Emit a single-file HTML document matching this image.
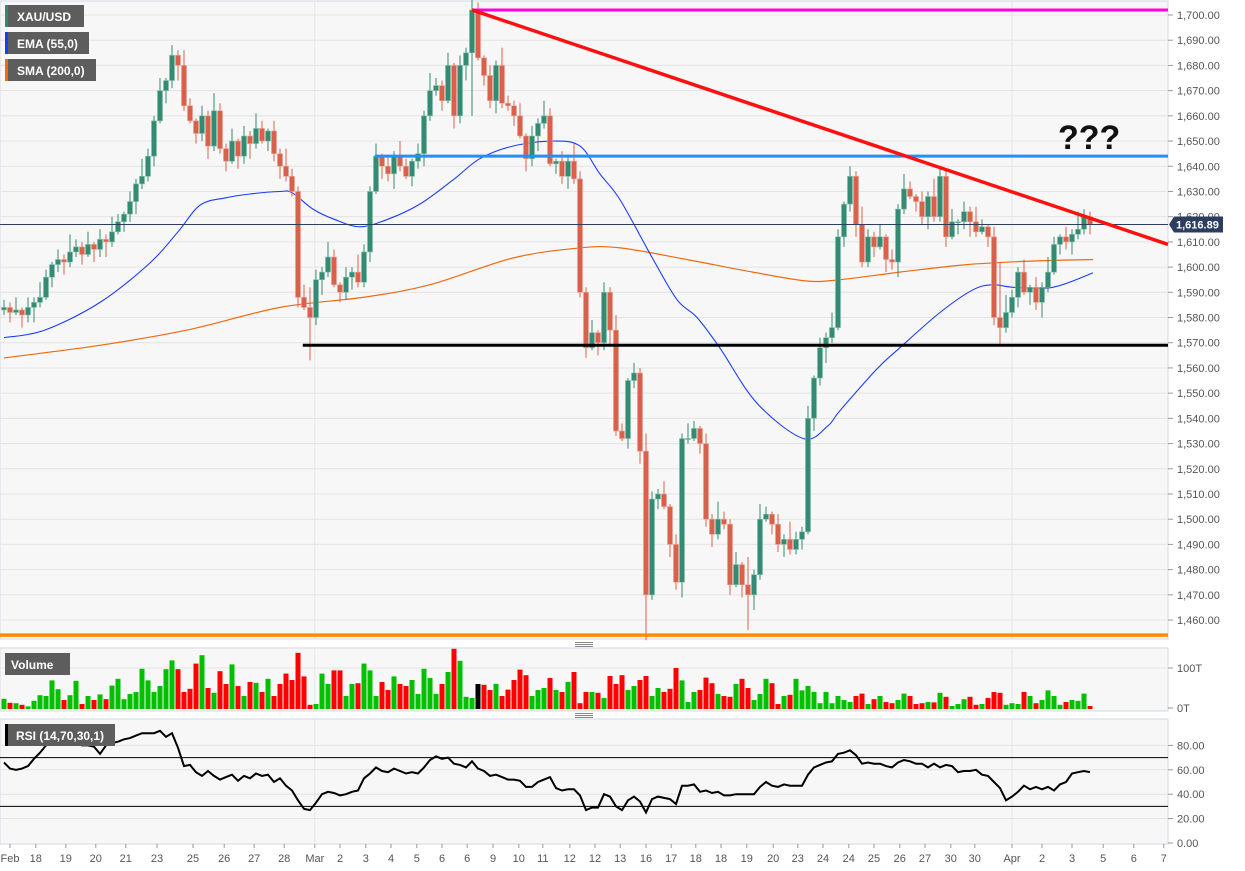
<!DOCTYPE html>
<html><head><meta charset="utf-8"><title>XAU/USD chart</title>
<style>
html,body{margin:0;padding:0;background:#fff;}
svg{display:block;font-family:"Liberation Sans",Arial,sans-serif;}
</style></head>
<body>
<svg id="chart" width="1245" height="871" viewBox="0 0 1245 871" xmlns="http://www.w3.org/2000/svg">
  <rect x="0" y="0" width="1245" height="871" fill="#ffffff"/>
  <rect x="0" y="1" width="1168" height="638" fill="#f7f7f7" stroke="#d3d8e6"/>
  <rect x="0" y="648" width="1168" height="63" fill="#f7f7f7" stroke="#d3d8e6"/>
  <rect x="0" y="719" width="1168" height="125" fill="#f7f7f7" stroke="#d3d8e6"/>
  <g id="grid"></g>
  <g id="overlays"></g>
  <g id="candles"></g>
  <g id="annot"></g>
  <g id="volume"></g>
  <g id="rsi"></g>
  <g id="axes"></g>

  <g>
    <rect x="5" y="5" width="79" height="22" fill="#5d5d5d"/><rect x="5" y="5" width="3" height="22" fill="#2e8b6e"/>
    <text x="17" y="21" font-size="12" font-weight="bold" fill="#fff">XAU/USD</text></g>
  <g>
    <rect x="5" y="32" width="84" height="22" fill="#5d5d5d"/><rect x="5" y="32" width="3" height="22" fill="#1a3cff"/>
    <text x="17" y="48" font-size="12" font-weight="bold" fill="#fff">EMA (55,0)</text></g>
  <g>
    <rect x="5" y="59" width="91" height="22" fill="#5d5d5d"/><rect x="5" y="59" width="3" height="22" fill="#f06a10"/>
    <text x="17" y="75" font-size="12" font-weight="bold" fill="#fff">SMA (200,0)</text></g>
  <g>
    <rect x="5" y="653" width="65" height="22" fill="#5d5d5d"/>
    <text x="11" y="669" font-size="12" fill="#fff" font-weight="bold">Volume</text></g>
  <g>
    <rect x="5" y="724" width="110" height="22" fill="#5d5d5d"/><rect x="5" y="724" width="3" height="22" fill="#000"/>
    <text x="16" y="740" font-size="12" font-weight="bold" fill="#fff">RSI (14,70,30,1)</text></g>
  <text x="1058" y="149" font-size="34" font-weight="bold" fill="#111">???</text>
  <g stroke="#888" stroke-width="1">
    <line x1="575" y1="642.5" x2="593" y2="642.5"/><line x1="575" y1="644.5" x2="593" y2="644.5"/><line x1="575" y1="646.5" x2="593" y2="646.5"/></g>
  <g stroke="#888" stroke-width="1">
    <line x1="575" y1="713.5" x2="593" y2="713.5"/><line x1="575" y1="715.5" x2="593" y2="715.5"/><line x1="575" y1="717.5" x2="593" y2="717.5"/></g>
</svg>
<script>
// ---------- DATA ----------
const closes = [1584,1582,1583,1581,1584,1586,1588,1596,1601,1603,
1602,1606,1608,1605,1609,1607,1611,1610,1614,1618,
1621,1626,1633,1636,1644,1658,1670,1674,1684,1680,
1664,1658,1653,1660,1648,1662,1647,1642,1650,1644,
1652,1649,1655,1650,1654,1645,1640,1636,1630,1588,
1584,1580,1595,1598,1604,1593,1590,1596,1598,1594,
1606,1630,1644,1640,1637,1644,1640,1636,1642,1645,
1660,1670,1672,1666,1680,1660,1680,1685,1702,1683,
1676,1666,1680,1665,1664,1660,1652,1643,1652,1657,
1660,1641,1642,1636,1642,1635,1590,1568,1574,1570,
1590,1575,1535,1532,1555,1558,1527,1470,1508,1510,
1505,1490,1475,1532,1532,1536,1530,1500,1494,1500,
1498,1474,1482,1474,1470,1478,1500,1502,1498,1490,
1492,1488,1492,1495,1540,1556,1568,1572,1576,1612,
1625,1636,1617,1602,1612,1608,1612,1603,1602,1623,
1631,1628,1626,1620,1628,1620,1636,1612,1618,1618,
1622,1618,1614,1616,1612,1580,1576,1582,1588,1598,
1590,1592,1586,1592,1598,1609,1612,1610,1613,1615,
1620,1617];
const firstOpen = 1583;
const wickUp = [3,2,5,1,4,2,6,3,1,4,2,7];
const wickDn = [2,4,1,5,3,6,2,1,4,3,5,2];
const spikeIdx = [51,107,124,166,78,96];
const spikeLow = [1563,1452,1456,1569,1660,1600];
const spikeHigh = [1592,1514,1485,1602,1703,1632];
const volumes = [23,13,12,8,4,18,32,30,69,47,
20,32,68,10,30,20,34,22,56,73,
22,35,40,98,69,40,55,97,119,97,
40,48,111,132,50,38,92,60,109,55,
30,65,63,40,73,30,60,86,70,138,
79,8,10,86,60,94,94,30,60,62,
111,94,30,65,45,79,60,55,70,35,
98,75,35,60,90,148,118,28,25,60,
58,45,60,30,46,70,96,82,30,45,
50,75,45,40,65,90,12,40,40,38,
25,80,60,82,45,55,70,80,30,50,
40,48,100,69,15,40,45,76,62,35,
30,28,60,73,50,20,35,73,62,10,
30,33,73,44,55,40,12,40,12,30,
20,15,30,36,10,22,30,15,12,20,
36,30,10,12,15,14,38,28,5,10,
22,28,8,10,25,40,38,8,12,10,
40,30,12,20,44,30,8,15,20,18,
36,5];
const rsiValues = [66,61,60,61,63,69,74,80,82,82,
82,83,85,80,80,79,73,80,82,83,
85,86,88,90,90,90,92,87,90,78,
63,64,58,55,59,55,52,54,56,51,
55,53,57,55,56,50,53,47,43,35,
28,27,33,40,42,41,39,40,42,43,
53,57,62,59,58,61,59,57,58,57,
62,68,71,69,70,65,64,62,67,61,
59,55,56,54,52,52,51,46,46,50,
52,54,45,43,44,44,39,27,29,29,
40,38,30,27,35,38,34,25,36,38,
37,36,32,47,47,48,42,43,41,42,
39,39,40,40,40,40,46,50,47,46,
48,47,47,47,56,62,64,66,67,73,
74,76,72,65,66,65,65,63,62,66,
68,67,65,65,62,65,62,64,63,58,
59,59,60,56,55,50,45,35,38,42,
47,44,46,44,46,43,48,50,57,58,
59,58];
const emaIdx = [0,6.8,16,24.3,29,32.7,37,41,46,48,51.5,55,59.3,64,69.3,74.8,79.3,84.8,91.5,96,99.3,102.7,108.2,112.2,115.5,119.3,125.5,133.2,137.3,139.3,145.5,149.3,156,161.5,164.8,168.2,174.8,181.5];
const emaVal = [1572,1575,1586,1601.6,1614,1624.6,1627.5,1629,1630,1629.5,1623,1619,1616,1619,1625,1634.5,1643,1648,1650,1648,1637,1626.6,1603,1587,1580,1568,1546,1532,1537,1543,1559.6,1568,1582,1591,1593,1592,1592,1597.7];
const smaIdx = [0,16,30.5,46,59.8,71,84.8,96,102.7,113.8,124.8,133.8,139.3,149.3,160.5,171.5,181.5];
const smaVal = [1564,1569,1575,1584,1588,1593,1603.6,1607.6,1607.6,1603,1598,1594.5,1595,1598,1601,1602.4,1603];
const priceTicks = [1460,1470,1480,1490,1500,1510,1520,1530,1540,1550,1560,1570,1580,1590,1600,1610,1620,1630,1640,1650,1660,1670,1680,1690,1700];
const rsiTicks = [0,20,40,60,80];
const volTicks = [0,100];
const dateLabels = ["Feb","18","19","20","21","23","25","26","27","28","Mar","2","3","4","5","6","6","9","10","11","12","12","13","16","17","18","18","19","20","23","24","24","25","26","27","30","30","Apr","2","3","5","6","7"];
const dateIdx = [1,5.3,10.3,15.3,20.3,25.5,31.5,36.7,41.7,46.7,51.8,56,60.3,64.5,68.8,73,77.2,81.5,85.8,89.8,94.3,98.5,102.7,107,111.2,115.3,119.5,123.8,128.2,132.3,136.5,140.8,145,149.3,153.5,157.8,161.8,168,173,178,183.2,188.3,193.3];
const lastPrice = 1616.89;
const resistance = 1644, support = 1569, lowLine = 1454, highLine = 1702;
const trendStartIdx = 78, trendStartP = 1702, trendEndIdx = 194, trendEndP = 1609;

// ---------- SCALES ----------
const PLOT_R = 1168;
const xOf = i => 4 + 6 * i;
const yP = p => 15 + (1700 - p) * 2.521;
const yV = v => 708 - v * 0.4;
const yR = r => 843 - r * 1.22;
const NS = "http://www.w3.org/2000/svg";
function mk(tag, attrs, parent) {
  const e = document.createElementNS(NS, tag);
  for (const k in attrs) e.setAttribute(k, attrs[k]);
  parent.appendChild(e);
  return e;
}
const G = id => document.getElementById(id);

// grid
const grid = G('grid');
priceTicks.forEach(p => {
  const l = mk('line', {x1:0, x2:PLOT_R, y1:yP(p), y2:yP(p), stroke:'#e4e4e4', 'stroke-width':1}, grid);
  
  
});
[20,40,60,80].forEach(r => {
  const l = mk('line', {x1:0, x2:PLOT_R, y1:yR(r), y2:yR(r), stroke:'#e4e4e4'}, grid);
  
  
});
{
  const l = mk('line', {x1:0, x2:PLOT_R, y1:yV(100), y2:yV(100), stroke:'#e4e4e4'}, grid);
  
  
}
[10, 37].forEach(k => {
  const x = xOf(dateIdx[k]);
  [[1,639],[648,711],[719,844]].forEach(r => {
    const l = mk('line', {x1:x, x2:x, y1:r[0], y2:r[1], stroke:'#e4e4e4'}, grid);
    
    
  });
});

// overlays EMA / SMA (smooth Catmull-Rom)
const ov = G('overlays');
function smoothPath(idx, vals) {
  const P = idx.map((t, k) => [xOf(t), yP(vals[k])]);
  let d = 'M' + P[0][0].toFixed(1) + ' ' + P[0][1].toFixed(1);
  for (let k = 0; k < P.length - 1; k++) {
    const p0 = P[Math.max(0, k-1)], p1 = P[k], p2 = P[k+1], p3 = P[Math.min(P.length-1, k+2)];
    const c1x = p1[0] + (p2[0]-p0[0])/6, c1y = p1[1] + (p2[1]-p0[1])/6;
    const c2x = p2[0] - (p3[0]-p1[0])/6, c2y = p2[1] - (p3[1]-p1[1])/6;
    d += ' C' + c1x.toFixed(1)+' '+c1y.toFixed(1)+' '+c2x.toFixed(1)+' '+c2y.toFixed(1)+' '+p2[0].toFixed(1)+' '+p2[1].toFixed(1);
  }
  return d;
}
{
  const s = mk('path', {d:smoothPath(smaIdx, smaVal), fill:'none', stroke:'#f06a10', 'stroke-width':1.2}, ov);
  
  
  const e = mk('path', {d:smoothPath(emaIdx, emaVal), fill:'none', stroke:'#1a3cff', 'stroke-width':1.1}, ov);
  
  
}

// candles
const cg = G('candles');
const opens = [];
closes.forEach((c, i) => {
  const o = i ? closes[i-1] : firstOpen;
  opens.push(o);
  let hi = Math.max(o, c) + wickUp[i % wickUp.length];
  let lo = Math.min(o, c) - wickDn[i % wickDn.length];
  const s = spikeIdx.indexOf(i);
  if (s >= 0) { lo = Math.min(lo, spikeLow[s]); hi = Math.max(hi, spikeHigh[s]); }
  const up = c >= o;
  const col = up ? '#348a72' : '#d9604b';
  const x = xOf(i);
  const w = mk('line', {x1:x, x2:x, y1:yP(hi), y2:yP(lo), stroke:col, 'stroke-width':1}, cg);
  
  
  const yt = yP(Math.max(o, c)), yb = yP(Math.min(o, c));
  const b = mk('rect', {x:x-2.5, y:yt, width:5, height:Math.max(1, yb-yt), fill:col, stroke:up?'#7fbfa9':'#eaa093', 'stroke-width':0.6}, cg);
  
  
});

// annotations
const an = G('annot');
function hline(p, x1, col, w, name) {
  const l = mk('line', {x1:x1, x2:PLOT_R, y1:yP(p), y2:yP(p), stroke:col, 'stroke-width':w}, an);
  
  
}
hline(highLine, xOf(trendStartIdx), '#ff00dd', 3, 'high-line');
hline(resistance, xOf(61.8), '#1e90ff', 3, 'resistance-line');
hline(support, xOf(49.8), '#000000', 3, 'support-line');
hline(lowLine, 0, '#ff8c00', 3.5, 'low-line');
hline(lastPrice, 0, '#2c3e5f', 1, 'last-price-line');
{
  const endIdx = (PLOT_R-4)/6;
  const endP = trendStartP + (trendEndP-trendStartP)*(endIdx-trendStartIdx)/(trendEndIdx-trendStartIdx);
  const tl = mk('line', {x1:xOf(trendStartIdx), y1:yP(trendStartP), x2:PLOT_R, y2:yP(endP), stroke:'#ff1010', 'stroke-width':3.5}, an);
  
  
}

// volume
const vg = G('volume');
volumes.forEach((v, i) => {
  const up = closes[i] >= opens[i];
  const b = mk('rect', {x:xOf(i)-2.5, y:yV(v), width:5, height:708-yV(v)+1, fill:(i===79?'#000':(up?'#00c000':'#ff0000'))}, vg);
  
  
});

// RSI
const rg = G('rsi');
[70,30].forEach(r => {
  const l = mk('line', {x1:0, x2:PLOT_R, y1:yR(r), y2:yR(r), stroke:'#000', 'stroke-width':1}, rg);
  
  
});
{
  const d = rsiValues.map((r, i) => (i ? 'L' : 'M') + xOf(i) + ' ' + yR(r).toFixed(1)).join(' ');
  const p = mk('path', {d:d, fill:'none', stroke:'#000', 'stroke-width':2}, rg);
  
  
}

// axes
const ax = G('axes');
const fmt = p => p.toLocaleString('en-US', {minimumFractionDigits:2, maximumFractionDigits:2});
priceTicks.forEach(p => {
  const t = mk('line', {x1:PLOT_R, x2:PLOT_R+5, y1:yP(p), y2:yP(p), stroke:'#999'}, ax);
  
  
  const tx = mk('text', {x:1177, y:yP(p)+4, 'font-size':11, fill:'#555'}, ax);
  tx.textContent = fmt(p);
  
  
});
volTicks.forEach(v => {
  const t = mk('line', {x1:PLOT_R, x2:PLOT_R+5, y1:yV(v), y2:yV(v), stroke:'#999'}, ax);
  
  
  const tx = mk('text', {x:1177, y:yV(v)+4, 'font-size':11, fill:'#555'}, ax);
  tx.textContent = v + 'T';
  
  
});
rsiTicks.forEach(r => {
  const t = mk('line', {x1:PLOT_R, x2:PLOT_R+5, y1:yR(r), y2:yR(r), stroke:'#999'}, ax);
  
  
  const tx = mk('text', {x:1177, y:yR(r)+4, 'font-size':11, fill:'#555'}, ax);
  tx.textContent = r.toFixed(2);
  
  
});
dateLabels.forEach((lab, k) => {
  const x = xOf(dateIdx[k]);
  const t = mk('line', {x1:x, x2:x, y1:844, y2:848, stroke:'#999'}, ax);
  
  
  const tx = mk('text', {x:x, y:862, 'font-size':11, fill:'#555', 'text-anchor':'middle'}, ax);
  tx.textContent = lab;
  
  
});
// last price label
{
  const y = yP(lastPrice);
  const g = mk('g', {}, ax);
  
  
  mk('path', {d:`M1169 ${y} L1174 ${y-8} L1223 ${y-8} L1223 ${y+8} L1174 ${y+8} Z`, fill:'#2c3e5f'}, g);
  const tx = mk('text', {x:1176, y:y+4, 'font-size':11, 'font-weight':'bold', fill:'#fff'}, g);
  tx.textContent = fmt(lastPrice);
}
</script>
</body></html>
